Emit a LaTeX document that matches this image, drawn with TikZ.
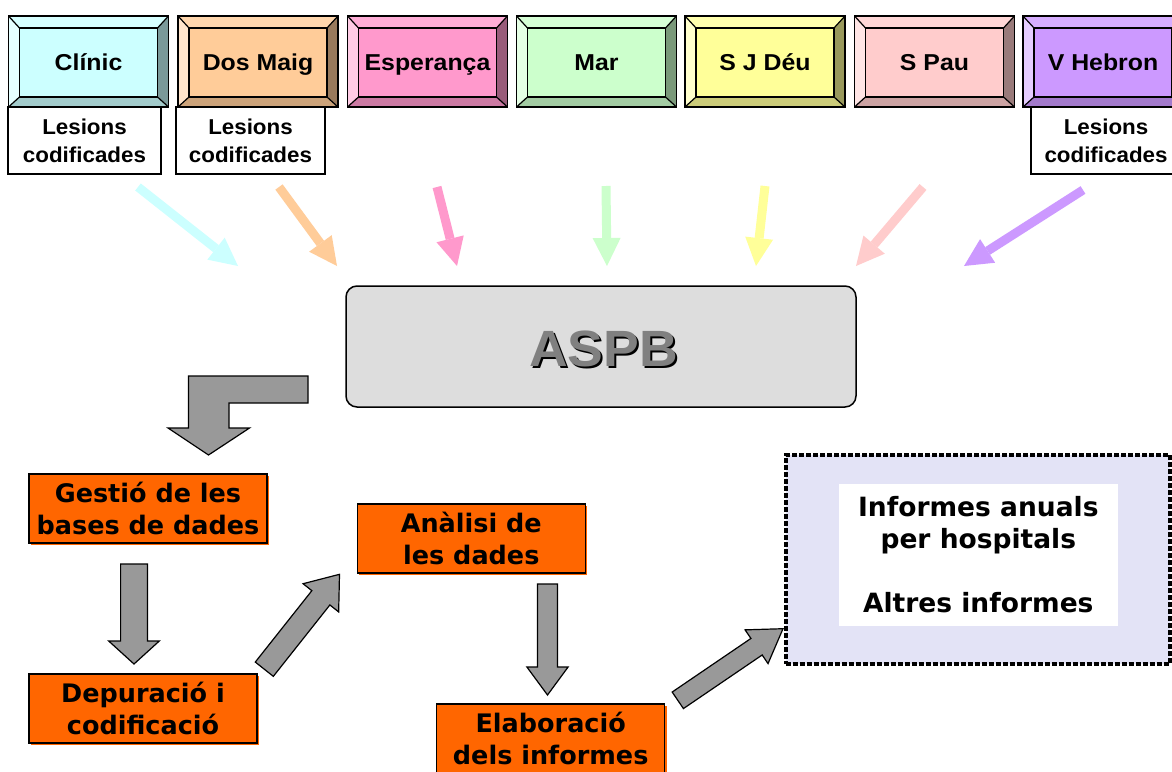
\documentclass[tikz,border=0pt]{standalone}
\usepackage{graphicx}
\usepackage{fontspec}
\setmainfont{Liberation Sans}
\newfontfamily\djv{DejaVu Sans}
\usetikzlibrary{arrows.meta,calc,shadows}

\definecolor{cClinic}{HTML}{CCFFFF}
\definecolor{cDos}{HTML}{FFCC99}
\definecolor{cEsp}{HTML}{FF99CC}
\definecolor{cMar}{HTML}{CCFFCC}
\definecolor{cSjd}{HTML}{FFFF99}
\definecolor{cSpau}{HTML}{FFCCCC}
\definecolor{cVh}{HTML}{CC99FF}
\definecolor{cOrange}{HTML}{FF6600}
\definecolor{cAspb}{HTML}{DDDDDD}
\definecolor{cAspbTxt}{HTML}{808080}
\definecolor{cLav}{HTML}{E3E3F6}
\definecolor{cGrayArrow}{HTML}{999999}

\newcommand\wt[1]{\scalebox{1.08}[1]{#1}}
\newcommand\wl[1]{\scalebox{1.04}[1]{#1}}

\newcommand\blockarrow[5]{%
  \coordinate (ba-c) at ($(#2)!#5!(#1)$);
  \draw[blockarr] ($(#1)!#3!90:(#2)$) -- ($(ba-c)!#3!90:(#2)$) -- ($(ba-c)!#4!90:(#2)$) -- (#2)
    -- ($(ba-c)!#4!-90:(#2)$) -- ($(ba-c)!#3!-90:(#2)$) -- ($(#1)!#3!-90:(#2)$) -- cycle;}

\tikzset{
  hosp/.style={rectangle, draw=black, line width=1.2pt, fill=#1,
    minimum width=160pt, minimum height=91pt, inner sep=0pt,
    text height=17pt, text depth=0pt,
    font=\bfseries\fontsize{23}{27}\selectfont,
    path picture={
      \fill[#1!80!white] (path picture bounding box.north west) -- (path picture bounding box.north east)
        -- ([shift={(-11pt,-12pt)}]path picture bounding box.north east) -- ([shift={(11pt,-12pt)}]path picture bounding box.north west) -- cycle;
      \fill[#1!50!white] (path picture bounding box.north west) -- ([shift={(11pt,-12pt)}]path picture bounding box.north west)
        -- ([shift={(11pt,10pt)}]path picture bounding box.south west) -- (path picture bounding box.south west) -- cycle;
      \fill[#1!60!black] (path picture bounding box.north east) -- ([shift={(-11pt,-12pt)}]path picture bounding box.north east)
        -- ([shift={(-11pt,10pt)}]path picture bounding box.south east) -- (path picture bounding box.south east) -- cycle;
      \fill[#1!80!black] (path picture bounding box.south west) -- ([shift={(11pt,10pt)}]path picture bounding box.south west)
        -- ([shift={(-11pt,10pt)}]path picture bounding box.south east) -- (path picture bounding box.south east) -- cycle;
      \draw[black, line width=1.2pt] ([shift={(11pt,-12pt)}]path picture bounding box.north west) rectangle ([shift={(-11pt,10pt)}]path picture bounding box.south east);
      \draw[black, line width=1.2pt] (path picture bounding box.north west) -- ([shift={(11pt,-12pt)}]path picture bounding box.north west)
        (path picture bounding box.north east) -- ([shift={(-11pt,-12pt)}]path picture bounding box.north east)
        (path picture bounding box.south west) -- ([shift={(11pt,10pt)}]path picture bounding box.south west)
        (path picture bounding box.south east) -- ([shift={(-11pt,10pt)}]path picture bounding box.south east);
    }},
  lesbox/.style={rectangle, draw=black, line width=1.2pt, fill=white, minimum height=67pt,
    inner sep=0pt, align=center, font=\bfseries\fontsize{21.5}{28}\selectfont},
  feed/.style={line width=9pt, draw=#1, -{Triangle[length=28pt,width=28pt,line width=0pt]}},
  blockarr/.style={fill=cGrayArrow, draw=black, line width=1.2pt, line join=miter},
  obox/.style={rectangle, draw=black, line width=1.3pt, fill=cOrange, minimum width=#1,
    minimum height=69pt, inner sep=0pt, align=center,
    font=\djv\bfseries\fontsize{25.5}{31.5}\selectfont,
    copy shadow={shadow xshift=2pt, shadow yshift=-2pt, fill=cOrange, draw=none}},
  aspbtxt/.style={font=\bfseries\fontsize{51}{54}\selectfont, inner sep=0pt}
}

\begin{document}
\begin{tikzpicture}[x=1pt,y=-1pt]
\fill[white] (0,0) rectangle (1172,771);
\clip (0,0) rectangle (1172,771);

% hospital boxes
\node[hosp=cClinic] (clinic) at (88.5,61.5) {\wt{Clínic}};
\node[hosp=cDos] (dosmaig) at (258,61.5) {\wt{Dos Maig}};
\node[hosp=cEsp] (esper) at (427.5,61.5) {\wt{Esperança}};
\node[hosp=cMar] (mar) at (596.5,61.5) {\wt{Mar}};
\node[hosp=cSjd] (sjdeu) at (765,61.5) {\wt{S J Déu}};
\node[hosp=cSpau] (spau) at (934.5,61.5) {\wt{S Pau}};
\node[hosp=cVh] (vhebron) at (1103,61.5) {\wt{V Hebron}};

% lesions boxes
\node[lesbox, minimum width=153pt] (clinicL) at (84.5,140.5) {\wl{Lesions}\\\wl{codificades}};
\node[lesbox, minimum width=149pt] (dosmaigL) at (250.5,140.5) {\wl{Lesions}\\\wl{codificades}};
\node[lesbox, minimum width=150pt] (vhebronL) at (1106,140.5) {\wl{Lesions}\\\wl{codificades}};

% ASPB
\node[rectangle, rounded corners=11pt, draw=black, line width=1.5pt, fill=cAspb,
  minimum width=510pt, minimum height=121pt] (aspb) at (601,346.5) {};
\node[aspbtxt, text=black] (aspbsh) at (605.5,350.5) {\scalebox{1.05}[1]{ASPB}};
\node[aspbtxt, text=cAspbTxt] (aspbt) at (603.5,348.5) {\scalebox{1.05}[1]{ASPB}};

% coloured feed arrows
\coordinate (f1s) at (138,187);   \coordinate (f1e) at (238,266);
\coordinate (f2s) at (279,187);   \coordinate (f2e) at (337,266);
\coordinate (f3s) at (437,187);   \coordinate (f3e) at (457,266);
\coordinate (f4s) at (606,186);   \coordinate (f4e) at (607,266);
\coordinate (f5s) at (765,186);   \coordinate (f5e) at (756,266);
\coordinate (f6s) at (923,187);   \coordinate (f6e) at (856,266);
\coordinate (f7s) at (1083,190);  \coordinate (f7e) at (964,266);
\draw[feed=cClinic] (f1s) -- (f1e);
\draw[feed=cDos] (f2s) -- (f2e);
\draw[feed=cEsp] (f3s) -- (f3e);
\draw[feed=cMar] (f4s) -- (f4e);
\draw[feed=cSjd] (f5s) -- (f5e);
\draw[feed=cSpau] (f6s) -- (f6e);
\draw[feed=cVh] (f7s) -- (f7e);

% bent arrow from ASPB down to the process
\draw[blockarr] (308,376) -- (188.5,376) -- (188.5,428) -- (168,428) -- (208.5,455)
  -- (249.5,428) -- (229,428) -- (229,403) -- (308,403) -- cycle;

% process boxes
\node[obox=238pt] (gestio) at (148,508.5) {Gestió de les\\bases de dades};
\node[obox=228pt] (depur) at (143,708.5) {Depuració i\\codificació};
\node[obox=228pt] (analisi) at (471.3,538.5) {Anàlisi de\\les dades};
\node[obox=228pt] (elab) at (550.7,738.5) {Elaboració\\dels informes};

% results
\node[rectangle, draw=black, dash pattern=on 5pt off 2pt, line width=4pt, fill=cLav,
  minimum width=384pt, minimum height=209pt] (res) at (977.5,559.5) {};
\node[rectangle, fill=white, minimum width=279pt, minimum height=142pt, align=center, inner sep=0pt,
  font=\djv\bfseries\fontsize{26.5}{32}\selectfont] (resin) at (978.3,554.5)
  {Informes anuals\\per hospitals\\[32pt]Altres informes};

% grey block arrows
\coordinate (g1s) at (134,564);   \coordinate (g1e) at (134,664);
\coordinate (g2s) at (264.3,669.2); \coordinate (g2e) at (339.5,574.3);
\coordinate (g3s) at (547.5,584); \coordinate (g3e) at (547.5,695);
\coordinate (g4s) at (677.8,700.3); \coordinate (g4e) at (783,628.7);
\blockarrow{g1s}{g1e}{13.4pt}{25.3pt}{23pt}
\blockarrow{g2s}{g2e}{11.5pt}{22.7pt}{30pt}
\blockarrow{g3s}{g3e}{10pt}{20.6pt}{28pt}
\blockarrow{g4s}{g4e}{10pt}{20.4pt}{32pt}
\end{tikzpicture}
\end{document}
